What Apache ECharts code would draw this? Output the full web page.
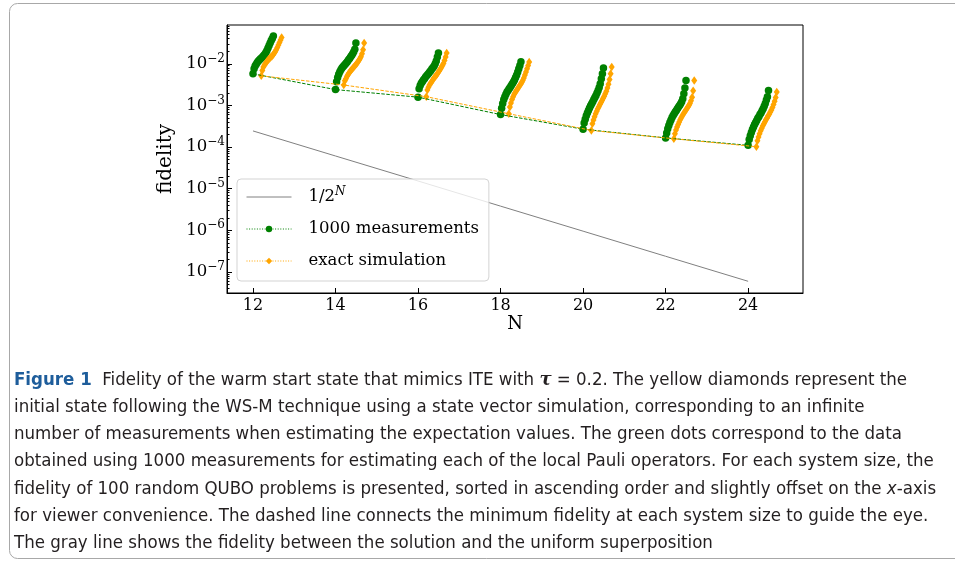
<!DOCTYPE html>
<html><head><meta charset="utf-8">
<script src="https://cdn.jsdelivr.net/npm/echarts@6/dist/echarts.min.js"></script>
<style>html,body{margin:0;padding:0;background:#fff}#chart{width:955px;height:562px}</style>
</head><body><div id="chart"></div>
<script>
// ---- data ----
const sizes = [12, 14, 16, 18, 20, 22, 24];
const xTicks = [12, 14, 16, 18, 20, 22, 24];
const yTickExponents = [-7, -6, -5, -4, -3, -2];
// gray line: fidelity with the uniform superposition, 1/2^N
const uniform = [2.44e-4, 6.10e-5, 1.53e-5, 3.81e-6, 9.54e-7, 2.38e-7, 5.96e-8];
// 1000 measurements (green), sorted ascending for each N
const meas12 = [5.75e-3, 7.59e-3, 8.91e-3, 9.77e-3, 1.07e-2, 1.17e-2, 1.23e-2, 1.32e-2, 1.38e-2, 1.48e-2, 1.58e-2, 1.70e-2, 1.86e-2, 2.09e-2, 2.40e-2, 2.75e-2, 3.16e-2, 3.63e-2, 4.07e-2, 4.68e-2];
const meas14 = [2.40e-3, 3.72e-3, 4.68e-3, 5.62e-3, 6.46e-3, 7.24e-3, 7.94e-3, 8.51e-3, 9.12e-3, 9.77e-3, 1.05e-2, 1.12e-2, 1.23e-2, 1.32e-2, 1.45e-2, 1.58e-2, 1.74e-2, 1.95e-2, 2.24e-2, 3.16e-2];
const meas16 = [1.58e-3, 2.51e-3, 3.02e-3, 3.39e-3, 3.72e-3, 4.07e-3, 4.37e-3, 4.79e-3, 5.13e-3, 5.50e-3, 5.89e-3, 6.46e-3, 6.92e-3, 7.59e-3, 8.13e-3, 8.91e-3, 1.00e-2, 1.17e-2, 1.45e-2, 1.82e-2];
const meas18 = [6.03e-4, 8.51e-4, 1.12e-3, 1.38e-3, 1.62e-3, 1.86e-3, 2.09e-3, 2.29e-3, 2.51e-3, 2.75e-3, 3.02e-3, 3.31e-3, 3.63e-3, 4.07e-3, 4.68e-3, 5.37e-3, 6.31e-3, 7.59e-3, 9.12e-3, 1.12e-2];
const meas20 = [2.69e-4, 3.80e-4, 4.68e-4, 5.62e-4, 6.61e-4, 7.59e-4, 8.71e-4, 9.77e-4, 1.10e-3, 1.23e-3, 1.38e-3, 1.55e-3, 1.74e-3, 2.00e-3, 2.29e-3, 2.69e-3, 3.31e-3, 4.37e-3, 5.75e-3, 7.94e-3];
const meas22 = [1.66e-4, 2.19e-4, 2.75e-4, 3.31e-4, 3.89e-4, 4.47e-4, 5.13e-4, 5.75e-4, 6.31e-4, 6.92e-4, 7.59e-4, 8.32e-4, 9.12e-4, 1.00e-3, 1.10e-3, 1.23e-3, 1.45e-3, 1.91e-3, 2.63e-3, 3.98e-3];
const meas24 = [1.10e-4, 1.51e-4, 1.86e-4, 2.24e-4, 2.63e-4, 3.02e-4, 3.47e-4, 3.89e-4, 4.37e-4, 4.90e-4, 5.37e-4, 6.03e-4, 6.61e-4, 7.41e-4, 8.32e-4, 9.55e-4, 1.12e-3, 1.35e-3, 1.62e-3, 2.29e-3];
// exact simulation (orange), sorted ascending for each N
const exact12 = [5.13e-3, 6.92e-3, 8.32e-3, 9.33e-3, 1.02e-2, 1.12e-2, 1.20e-2, 1.29e-2, 1.35e-2, 1.45e-2, 1.51e-2, 1.66e-2, 1.78e-2, 1.95e-2, 2.19e-2, 2.45e-2, 2.82e-2, 3.24e-2, 3.72e-2, 4.27e-2];
const exact14 = [3.09e-3, 3.89e-3, 4.37e-3, 5.01e-3, 5.50e-3, 6.03e-3, 6.61e-3, 7.08e-3, 7.59e-3, 8.13e-3, 8.71e-3, 9.33e-3, 1.00e-2, 1.10e-2, 1.20e-2, 1.32e-2, 1.48e-2, 1.74e-2, 2.19e-2, 3.16e-2];
const exact16 = [1.62e-3, 2.34e-3, 2.75e-3, 3.09e-3, 3.39e-3, 3.72e-3, 4.07e-3, 4.47e-3, 4.79e-3, 5.13e-3, 5.62e-3, 6.17e-3, 6.76e-3, 7.41e-3, 8.13e-3, 9.12e-3, 1.02e-2, 1.20e-2, 1.45e-2, 1.82e-2];
const exact18 = [6.31e-4, 9.12e-4, 1.15e-3, 1.38e-3, 1.62e-3, 1.86e-3, 2.04e-3, 2.24e-3, 2.45e-3, 2.69e-3, 2.95e-3, 3.24e-3, 3.55e-3, 3.98e-3, 4.57e-3, 5.37e-3, 6.31e-3, 7.59e-3, 9.12e-3, 1.10e-2];
const exact20 = [2.51e-4, 3.63e-4, 4.47e-4, 5.37e-4, 6.31e-4, 7.24e-4, 8.32e-4, 9.33e-4, 1.05e-3, 1.17e-3, 1.32e-3, 1.48e-3, 1.66e-3, 1.91e-3, 2.19e-3, 2.63e-3, 3.24e-3, 4.17e-3, 5.75e-3, 8.32e-3];
const exact22 = [1.58e-4, 2.09e-4, 2.57e-4, 3.02e-4, 3.47e-4, 3.98e-4, 4.57e-4, 5.13e-4, 5.75e-4, 6.31e-4, 6.92e-4, 7.59e-4, 8.32e-4, 9.12e-4, 1.00e-3, 1.12e-3, 1.29e-3, 1.58e-3, 2.24e-3, 3.98e-3];
const exact24 = [1.02e-4, 1.41e-4, 1.74e-4, 2.09e-4, 2.45e-4, 2.82e-4, 3.24e-4, 3.63e-4, 4.07e-4, 4.57e-4, 5.01e-4, 5.62e-4, 6.17e-4, 6.92e-4, 7.76e-4, 8.91e-4, 1.05e-3, 1.26e-3, 1.55e-3, 2.09e-3];
const legendNames = ['uniform', 'meas', 'exact'];
const legendTexts = ['{a|1/2}{s|N}', '1000 measurements', 'exact simulation'];
const captionLines = [
  '{fig|Figure 1}  Fidelity of the warm start state that mimics ITE with {tau|τ} = 0.2. The yellow diamonds represent the',
  'initial state following the WS-M technique using a state vector simulation, corresponding to an infinite',
  'number of measurements when estimating the expectation values. The green dots correspond to the data',
  'obtained using 1000 measurements for estimating each of the local Pauli operators. For each system size, the',
  'fidelity of 100 random QUBO problems is presented, sorted in ascending order and slightly offset on the {it|x}-axis',
  'for viewer convenience. The dashed line connects the minimum fidelity at each system size to guide the eye.',
  'The gray line shows the fidelity between the solution and the uniform superposition'
];

// ---- build ----
const measSets = [meas12, meas14, meas16, meas18, meas20, meas22, meas24];
const exactSets = [exact12, exact14, exact16, exact18, exact20, exact22, exact24];
const offsetStep = 0.026;   // horizontal spread of the sorted points
const exactShift = 0.2;     // extra offset of the exact-simulation points
const lg = v => Math.log10(v);
function cloud(sets, shift) {
  const pts = [];
  sets.forEach((arr, k) => arr.forEach((v, i) => pts.push([sizes[k] + shift + i * offsetStep, lg(v)])));
  return pts;
}
const minLine = (sets, shift) => sets.map((arr, k) => [sizes[k] + shift, lg(Math.min.apply(null, arr))]);
const minorTicks = [];
for (let e = -8; e <= -1; e++) for (let m = 2; m <= 9; m++) minorTicks.push(e + Math.log10(m));

const SERIF = '"DejaVu Serif", "Liberation Serif", serif';
const SANS = '"Liberation Sans Narrow", "DejaVu Sans Condensed", "Open Sans", sans-serif';
const GREEN = '#008000', ORANGE = '#FFA500', GRAY = '#808080';
const YMIN = -7.506, YMAX = -1.068;

const chart = echarts.init(document.getElementById('chart'), null, {renderer: 'canvas'});
chart.setOption({
  animation: false,
  backgroundColor: '#ffffff',
  grid: {left: 227, right: 152, top: 25, bottom: 269, show: true, borderColor: '#000', borderWidth: 1, backgroundColor: 'transparent'},
  xAxis: {
    type: 'value', min: 11.37, max: 25.33,
    name: 'N', nameLocation: 'middle', nameGap: 22,
    nameTextStyle: {fontFamily: SERIF, fontSize: 18, color: '#000'},
    axisLine: {show: true, lineStyle: {color: '#000', width: 1}},
    axisTick: {show: true, inside: true, length: 5, customValues: xTicks, lineStyle: {color: '#000', width: 1}},
    axisLabel: {customValues: xTicks, margin: 5, fontFamily: SERIF, fontSize: 16, color: '#000'},
    splitLine: {show: false}
  },
  yAxis: [{
    type: 'value', min: YMIN, max: YMAX,
    name: 'fidelity', nameLocation: 'middle', nameGap: 43, nameRotate: 90,
    nameTextStyle: {fontFamily: SERIF, fontSize: 20, color: '#000'},
    axisLine: {show: true, lineStyle: {color: '#000', width: 1}},
    axisTick: {show: true, inside: true, length: 5, customValues: yTickExponents, lineStyle: {color: '#000', width: 1}},
    axisLabel: {
      customValues: yTickExponents, margin: 2,
      formatter: v => '{b|10}{s|−' + Math.abs(Math.round(v)) + '}',
      rich: {
        b: {fontFamily: SERIF, fontSize: 16.5, color: '#000', lineHeight: 22},
        s: {fontFamily: SERIF, fontSize: 12, color: '#000', lineHeight: 10, verticalAlign: 'top'}
      }
    },
    splitLine: {show: false}
  }, {
    type: 'value', min: YMIN, max: YMAX, position: 'left',
    axisLine: {show: false},
    axisTick: {show: true, inside: true, length: 2.5, customValues: minorTicks, lineStyle: {color: '#000', width: 1}},
    axisLabel: {show: false},
    splitLine: {show: false}
  }],
  legend: {
    orient: 'vertical', left: 237, top: 179,
    padding: [7, 10, 9, 9], itemWidth: 45, itemHeight: 8, itemGap: 10,
    backgroundColor: 'rgba(255,255,255,0.8)', borderColor: '#d3d3d3', borderWidth: 1, borderRadius: 4,
    data: [
      {name: legendNames[0], itemStyle: {opacity: 0, borderWidth: 0}, lineStyle: {color: GRAY, width: 1, type: 'solid'}},
      {name: legendNames[1], itemStyle: {borderWidth: 0}, lineStyle: {width: 1, type: [1, 1.6]}},
      {name: legendNames[2], itemStyle: {borderWidth: 0}, lineStyle: {width: 1, type: [1, 1.6]}}
    ],
    formatter: n => legendTexts[legendNames.indexOf(n)],
    textStyle: {
      fontFamily: SERIF, fontSize: 16.5, color: '#000', lineHeight: 22, padding: [0, 0, 0, 12],
      rich: {
        a: {fontFamily: SERIF, fontSize: 16.5, color: '#000', lineHeight: 22},
        s: {fontFamily: SERIF, fontSize: 12, fontStyle: 'italic', color: '#000', lineHeight: 10, verticalAlign: 'top'}
      }
    }
  },
  series: [
    {name: legendNames[0], type: 'line', data: sizes.map((n, k) => [n, lg(uniform[k])]),
     symbol: 'none', lineStyle: {color: GRAY, width: 1}, itemStyle: {color: GRAY}, z: 2},
    {name: legendNames[1], type: 'line', data: minLine(measSets, 0), symbol: 'circle', showSymbol: false,
     lineStyle: {color: GREEN, width: 1, type: [3.5, 1.5]}, itemStyle: {color: GREEN}, z: 4},
    {name: legendNames[2], type: 'line', data: minLine(exactSets, exactShift), symbol: 'diamond', showSymbol: false,
     lineStyle: {color: ORANGE, width: 1, type: [3.5, 1.5]}, itemStyle: {color: ORANGE}, z: 4},
    {name: legendNames[1], type: 'scatter', data: cloud(measSets, 0), symbol: 'circle', symbolSize: 7.5,
     itemStyle: {color: GREEN, opacity: 1}, z: 3},
    {name: legendNames[2], type: 'scatter', data: cloud(exactSets, exactShift), symbol: 'diamond', symbolSize: [6, 8.5],
     itemStyle: {color: ORANGE, opacity: 1}, z: 3}
  ],
  graphic: [
    {type: 'rect', silent: true, z: 0, shape: {x: 9.5, y: 3.5, width: 1000, height: 555, r: 8},
     style: {fill: 'none', stroke: '#a8a8a8', lineWidth: 1}}
  ].concat(captionLines.map((t, i) => ({
    type: 'text', silent: true, x: 14, y: 380 + i * 27.2,
    style: {
      text: t, fontFamily: SANS, fontSize: 18.5, fill: '#231f20', verticalAlign: 'middle', align: 'left',
      rich: {
        fig: {fontFamily: SANS, fontSize: 18.5, fontWeight: 'bold', fill: '#1e5d9b', color: '#1e5d9b'},
        tau: {fontFamily: SERIF, fontSize: 18, fontWeight: 'bold', fontStyle: 'italic', fill: '#231f20', color: '#231f20'},
        it: {fontFamily: SANS, fontSize: 18.5, fontStyle: 'italic', fill: '#231f20', color: '#231f20'}
      }
    }
  })))
});
</script></body></html>
